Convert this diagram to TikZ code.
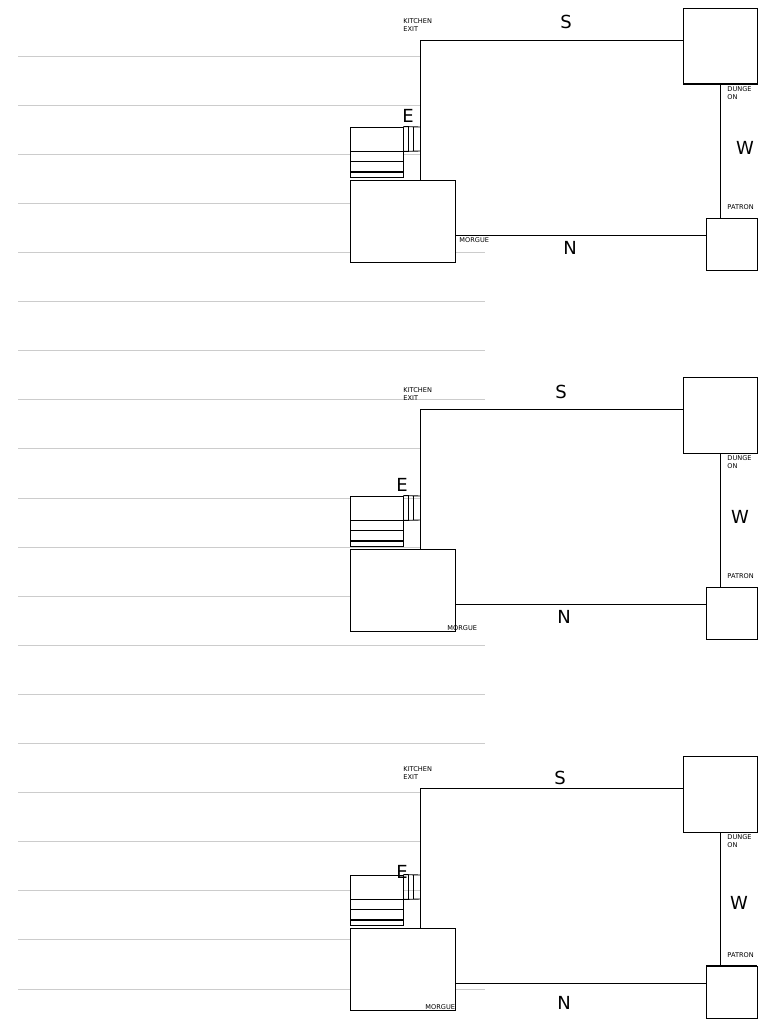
\documentclass[tikz,border=0pt]{standalone}
\usepackage{fontspec}
\setmainfont{DejaVu Sans}
\usetikzlibrary{positioning}

\begin{document}
\begin{tikzpicture}[x=1pt,y=-1pt,line width=.9pt,
  room/.style={draw,fill=white,inner sep=0pt},
  rule/.style={draw=black!20,line width=.7pt},
  tag/.style={font=\fontsize{6.6}{8}\selectfont,align=left,inner sep=0pt},
  dir/.style={font=\fontsize{18}{18}\selectfont,inner sep=0pt}]
\useasboundingbox(0,0)rectangle(768,1024);
% ruled lines behind the maps
\foreach \i in {0,...,19}\draw[rule](18,56+49.1*\i)--(485,56+49.1*\i);
% three copies of the map
\foreach \d/\ex/\ey/\sx/\sy/\nx/\ny/\wx/\wy/\mx/\my in
  {0/408/116/566/22/570/248/745/148/459/240,
   369/402/116/561/23/564/248/740/148/447/259,
   748/402/124/560/30/564/255/739/155/425/259}{
\begin{scope}[shift={(0,\d)}]
\fill[white](420,40)rectangle(720,235);
\node[room,minimum width=74,minimum height=76](dungeon)at(720,46){};
\node[room,minimum width=51,minimum height=52](patron)at(731.5,244){};
\node[room,minimum width=105,minimum height=82](morgue)at(402.5,221){};
\node[room,minimum width=53,minimum height=24](kitchen)at(376.5,139){};
\draw[fill=white](350,151)rectangle(403,161);
\draw[fill=white](350,161)rectangle(403,171);
\draw[fill=white](350,172)rectangle(403,177);
\draw[line width=1.6pt](350,171.6)--(403,171.6);
\draw(403,151)--(403,177);
% door strips
\draw(kitchen.north east)--(420,127) (kitchen.south east)--(420,151);
\draw(408,127)--(408,151) (413,127)--(413,151);
% corridors
\coordinate(exit)at(420,40);
\coordinate(nline)at(455,235);
\draw(exit|-morgue.north)|-(dungeon.west|-exit);
\draw(dungeon.south)--(dungeon.south|-patron.north);
\draw(morgue.east|-nline)--(patron.west|-nline);
% labels
\node[tag,anchor=north west](exitlbl)at(403,18){KITCHEN\\EXIT};
\node[tag,anchor=north west](dunglbl)at(727,86){DUNGE\\ON};
\node[tag,anchor=north west](patlbl)at(727,204){PATRON};
\node[tag,anchor=west](morglbl)at(\mx,\my){MORGUE};
\node[dir](elbl)at(\ex,\ey){E};
\node[dir](slbl)at(\sx,\sy){S};
\node[dir](nlbl)at(\nx,\ny){N};
\node[dir](wlbl)at(\wx,\wy){W};
\end{scope}}
\draw[line width=1.6pt](683,84)--(757,84);
\draw[line width=1.6pt](706,966)--(757,966);
\end{tikzpicture}
\end{document}
